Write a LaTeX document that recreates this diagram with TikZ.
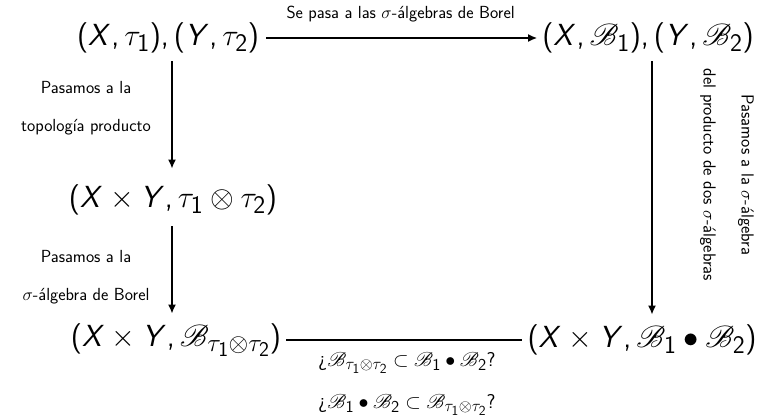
\RequirePackage{fix-cm}
\documentclass[tikz,border=0pt]{standalone}
\usepackage{mathrsfs}
\usetikzlibrary{arrows.meta}
\DeclareFontFamily{U}{rsfs}{\skewchar\font127 }
\DeclareFontShape{U}{rsfs}{m}{n}{<-6>rsfs5 <6-8.5>rsfs7 <8.5->rsfs10}{}
\DeclareSymbolFont{sfop}{OT1}{cmss}{m}{n}
\DeclareSymbolFont{sfit}{OT1}{cmss}{m}{sl}
\DeclareMathSymbol{X}{\mathalpha}{sfit}{`X}
\DeclareMathSymbol{Y}{\mathalpha}{sfit}{`Y}
\DeclareMathSymbol{1}{\mathalpha}{sfop}{`1}
\DeclareMathSymbol{2}{\mathalpha}{sfop}{`2}
\DeclareMathSymbol{,}{\mathpunct}{sfop}{"2C}
\DeclareMathDelimiter{(}{\mathopen}{sfop}{"28}{largesymbols}{"00}
\DeclareMathDelimiter{)}{\mathclose}{sfop}{"29}{largesymbols}{"01}
\DeclareMathSizes{30.5}{30.5}{25.3}{21}
\DeclareMathSizes{20}{20}{16.6}{13.8}
\begin{document}
\begin{tikzpicture}[x=1pt,y=-1pt,
  obj/.style={inner sep=5pt, font=\fontsize{30.5}{36}\selectfont},
  lbl/.style={font=\fontsize{17.5}{38}\selectfont\sffamily, align=center, inner sep=0pt},
  qlbl/.style={font=\fontsize{20}{42}\selectfont\sffamily, align=center, inner sep=0pt},
  arr/.style={-{Latex[length=9pt,width=8pt]}, line width=1.6pt},
  plain/.style={line width=1.6pt}]
\useasboundingbox (0,0) rectangle (762,417);
\node[obj] (A) at (168,38) {$(X,\tau_1),(Y,\tau_2)$};
\node[obj] (B) at (648,38) {$(X,\mathscr{B}_1),(Y,\mathscr{B}_2)$};
\node[obj] (C) at (173,200) {$(X\times Y,\tau_1\otimes\tau_2)$};
\node[obj] (D) at (176,340) {$(X\times Y,\mathscr{B}_{\tau_1\otimes\tau_2})$};
\node[obj] (E) at (642,340) {$(X\times Y,\mathscr{B}_1\bullet\mathscr{B}_2)$};
\draw[arr, shorten <=2pt] (A) -- (B) node[midway, above=12pt, font=\fontsize{17.5}{20}\selectfont\sffamily] (lt) {Se pasa a las $\sigma$-álgebras de Borel};
\draw[arr, shorten <=3pt, shorten >=11pt] (A.south -| 172,0) -- (C.north -| 172,0);
\draw[arr, shorten <=6pt, shorten >=5pt] (C.south -| 172,0) -- (D.north -| 172,0);
\draw[arr, shorten <=3pt, shorten >=5pt] (B.south -| 652,0) -- (E.north -| 652,0);
\draw[plain] (D) -- (E);
\node[lbl] (l1) at (86,108) {Pasamos a la\\topología producto};
\node[lbl] (l2) at (86,277) {Pasamos a la\\$\sigma$-álgebra de Borel};
\node[lbl, rotate=-90] (l3) at (727,175) {Pasamos a la $\sigma$-álgebra\\del producto de dos $\sigma$-álgebras};
\node[qlbl] (l4) at (407,384) {¿$\mathscr{B}_{\tau_1\otimes\tau_2}\subset\mathscr{B}_1\bullet\mathscr{B}_2$?\\¿$\mathscr{B}_1\bullet\mathscr{B}_2\subset\mathscr{B}_{\tau_1\otimes\tau_2}$?};
\end{tikzpicture}
\end{document}
